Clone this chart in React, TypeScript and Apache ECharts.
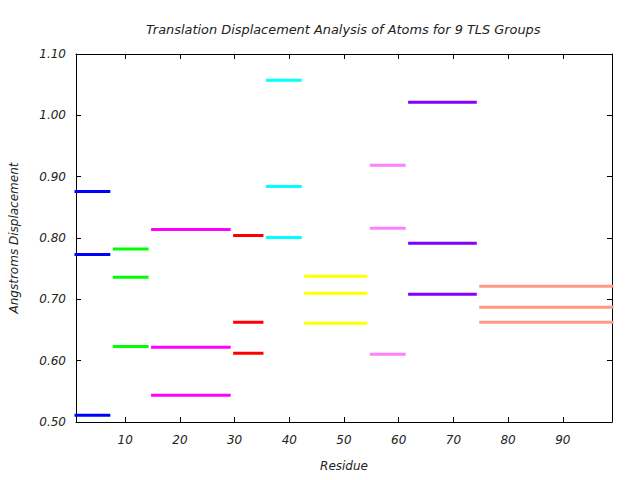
import React, { useEffect, useRef } from "react";
import * as echarts from "echarts";

const titleText = "Translation Displacement Analysis of Atoms for 9 TLS Groups";
const groupStarts = [1, 8, 15, 30, 36, 43, 55, 62, 75];
const groupEnds = [7, 14, 29, 35, 42, 54, 61, 74, 99];
const groupColors = ["#0000ff", "#00ff00", "#ff00ff", "#ff0000", "#00ffff", "#ffff00", "#ff80ff", "#8000ff", "#ff9980"];
const groupValues = [
  [0.876, 0.773, 0.511],
  [0.782, 0.736, 0.623],
  [0.814, 0.622, 0.5435],
  [0.804, 0.6626, 0.612],
  [1.057, 0.884, 0.801],
  [0.7376, 0.7098, 0.661],
  [0.9186, 0.8158, 0.6104],
  [1.0213, 0.7914, 0.7082],
  [0.7213, 0.687, 0.6626],
];
const xTicks = [10, 20, 30, 40, 50, 60, 70, 80, 90];
const yTicks = [0.5, 0.6, 0.7, 0.8, 0.9, 1.0, 1.1];

export default function App() {
  const ref = useRef<HTMLDivElement>(null);
  useEffect(() => {
    if (!ref.current) return;
    const chart = echarts.init(ref.current, undefined, { renderer: "svg" });
    const font = "DejaVu Sans";
    const series: any[] = [];
    groupValues.forEach((vals, gi) => {
      vals.forEach((v) => {
        series.push({
          type: "line",
          xAxisIndex: 0,
          yAxisIndex: 0,
          data: [
            [groupStarts[gi], v],
            [groupEnds[gi], v],
          ],
          showSymbol: false,
          symbol: "none",
          lineStyle: { color: groupColors[gi], width: 3, cap: "square" },
          silent: true,
        });
      });
    });
    const axisLine = { show: true, lineStyle: { color: "#000", width: 1 } };
    const axisTick = { show: true, inside: true, length: 5, lineStyle: { color: "#000", width: 1 } };
    chart.setOption({
      animation: false,
      backgroundColor: "#fff",
      title: {
        text: titleText,
        left: 141,
        top: 18,
        textStyle: { fontFamily: font, fontStyle: "italic", fontWeight: "normal", fontSize: 12.9, color: "#222" },
      },
      grid: { left: 76, right: 28, top: 54, bottom: 58 },
      xAxis: [
        {
          type: "value",
          min: 1,
          max: 99,
          position: "bottom",
          name: "Residue",
          nameLocation: "middle",
          nameGap: 38,
          nameTextStyle: { fontFamily: font, fontStyle: "italic", fontSize: 12, color: "#222" },
          axisLine,
          axisTick: { ...axisTick, customValues: xTicks },
          axisLabel: { customValues: xTicks, fontFamily: font, fontStyle: "italic", fontSize: 12, color: "#222", margin: 12 },
          splitLine: { show: false },
        },
        {
          type: "value",
          min: 1,
          max: 99,
          position: "top",
          axisLine,
          axisTick: { ...axisTick, customValues: xTicks },
          axisLabel: { show: false, customValues: xTicks },
          splitLine: { show: false },
        },
      ],
      yAxis: [
        {
          type: "value",
          min: 0.5,
          max: 1.1,
          interval: 0.1,
          position: "left",
          name: "Angstroms Displacement",
          nameLocation: "middle",
          nameGap: 56,
          nameTextStyle: { fontFamily: font, fontStyle: "italic", fontSize: 12, color: "#222" },
          axisLine,
          axisTick: { ...axisTick, customValues: yTicks },
          axisLabel: {
            customValues: yTicks,
            fontFamily: font,
            fontStyle: "italic",
            fontSize: 12,
            color: "#222",
            margin: 10,
            formatter: (v: number) => v.toFixed(2),
          },
          splitLine: { show: false },
        },
        {
          type: "value",
          min: 0.5,
          max: 1.1,
          interval: 0.1,
          position: "right",
          axisLine,
          axisTick: { ...axisTick, customValues: yTicks },
          axisLabel: { show: false },
          splitLine: { show: false },
        },
      ],
      series,
    });
    return () => chart.dispose();
  }, []);
  return <div ref={ref} style={{ width: 640, height: 480, position: "absolute", left: 0, top: 0 }} />;
}
